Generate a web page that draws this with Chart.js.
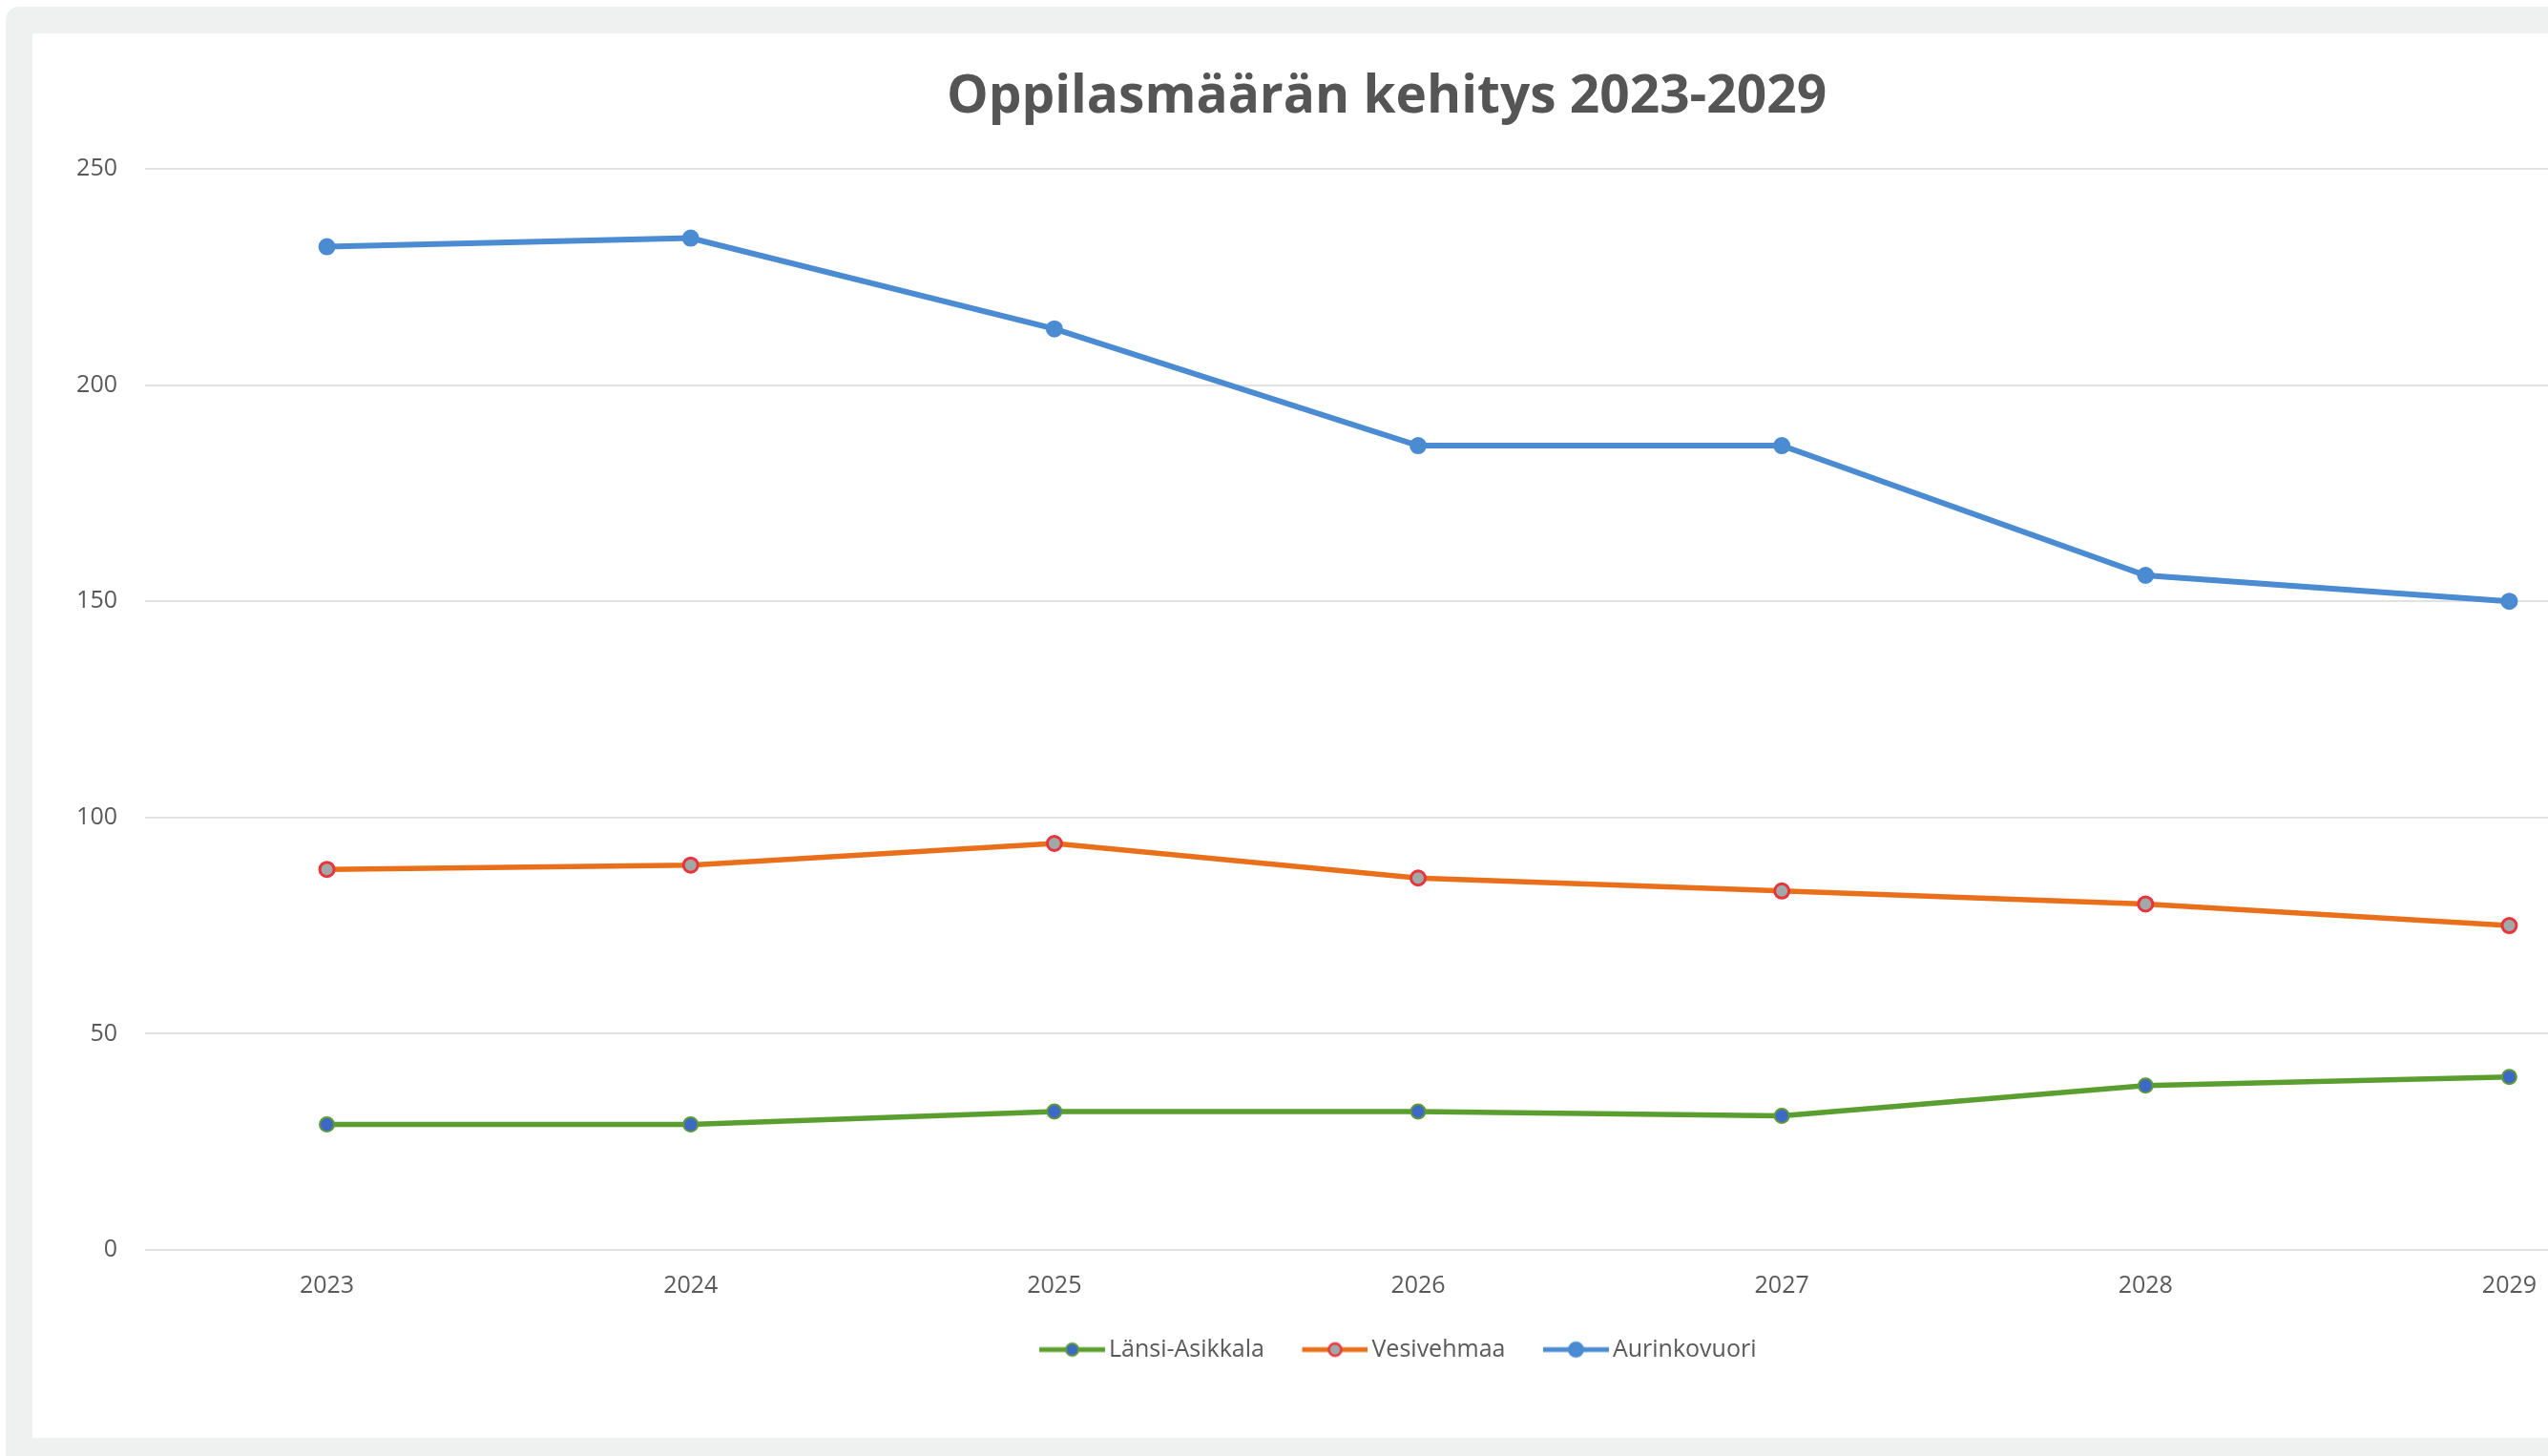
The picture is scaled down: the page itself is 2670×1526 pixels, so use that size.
<!DOCTYPE html>
<html>
<head>
<meta charset="utf-8">
<script src="https://cdn.jsdelivr.net/npm/chart.js@4.4.1/dist/chart.umd.min.js"></script>
<style>
    html, body { margin: 0; padding: 0; background: #ffffff; overflow: hidden; width: 2670px; height: 1526px; }
    .frame { position: absolute; left: 6px; top: 7px; width: 2760px; height: 1560px; background: #eff1f0; border-radius: 14px; }
    .panel { position: absolute; left: 34px; top: 35px; width: 2838px; height: 1472px; background: #ffffff; }
</style>
</head>
<body>
<div class="frame"></div>
<div class="panel"><canvas id="lineChart" width="2838" height="1472"></canvas></div>
<script>
var years = ['2023', '2024', '2025', '2026', '2027', '2028', '2029'];
var lansiAsikkala = [29, 29, 32, 32, 31, 38, 40];
var vesivehmaa = [88, 89, 94, 86, 83, 80, 75];
var aurinkovuori = [232, 234, 213, 186, 186, 156, 150];
var yTicks = [0, 50, 100, 150, 200, 250];

// legend picture: line with a marker, with empty room on the left for item spacing
var ICON_GAP = 32;
function legendIcon(lineColor, fill, stroke, r, bw) {
    var c = document.createElement('canvas');
    c.width = 69 + ICON_GAP;
    c.height = 24;
    var g = c.getContext('2d');
    g.strokeStyle = lineColor;
    g.lineWidth = 5;
    g.beginPath();
    g.moveTo(ICON_GAP, 12);
    g.lineTo(ICON_GAP + 69, 12);
    g.stroke();
    g.beginPath();
    g.arc(ICON_GAP + 34.5, 12, r, 0, Math.PI * 2);
    g.fillStyle = fill;
    g.fill();
    g.lineWidth = bw;
    g.strokeStyle = stroke;
    g.stroke();
    return c;
}

document.addEventListener('DOMContentLoaded', function() {
    var ctx = document.getElementById('lineChart').getContext('2d');
    var textGray = '#595959';

    var lineChart = new Chart(ctx, {
        type: 'line',
        data: {
            labels: years,
            datasets: [
                {
                    label: 'Länsi-Asikkala',
                    data: lansiAsikkala,
                    borderColor: '#5b9e30',
                    borderWidth: 5.5,
                    pointRadius: 7.5,
                    pointBorderWidth: 2,
                    pointBackgroundColor: '#3d68c6',
                    pointBorderColor: '#5d9a3a',
                    legendIcon: legendIcon('#5b9e30', '#3d68c6', '#5d9a3a', 6.5, 2)
                },
                {
                    label: 'Vesivehmaa',
                    data: vesivehmaa,
                    borderColor: '#e96f1a',
                    borderWidth: 5.5,
                    pointRadius: 7.5,
                    pointBorderWidth: 3,
                    pointBackgroundColor: '#a0a8a8',
                    pointBorderColor: '#e8353b',
                    legendIcon: legendIcon('#e96f1a', '#a0a8a8', '#e8353b', 6.5, 2.5)
                },
                {
                    label: 'Aurinkovuori',
                    data: aurinkovuori,
                    borderColor: '#4a8bd2',
                    borderWidth: 6,
                    pointRadius: 7.5,
                    pointBorderWidth: 3,
                    pointBackgroundColor: '#4a8bd2',
                    pointBorderColor: '#4a8bd2',
                    legendIcon: legendIcon('#4a8bd2', '#4a8bd2', '#4a8bd2', 7, 3)
                }
            ]
        },
        options: {
            responsive: false,
            animation: false,
            layout: {
                padding: { left: 0, right: 0, top: 0, bottom: 70 }
            },
            elements: {
                line: { tension: 0 }
            },
            plugins: {
                title: {
                    display: true,
                    text: 'Oppilasmäärän kehitys 2023-2029',
                    color: '#555555',
                    font: { family: 'Open Sans', size: 55, weight: 'bold' },
                    padding: { top: 34, bottom: 42 }
                },
                legend: {
                    position: 'bottom',
                    labels: {
                        color: textGray,
                        font: { family: 'Open Sans', size: 25 },
                        usePointStyle: true,
                        pointStyleWidth: 52 + ICON_GAP,
                        padding: 16,
                        generateLabels: function(chart) {
                            return chart.data.datasets.map(function(ds, i) {
                                return {
                                    text: ds.label,
                                    pointStyle: ds.legendIcon,
                                    fontColor: textGray,
                                    lineWidth: 0,
                                    hidden: false,
                                    datasetIndex: i
                                };
                            });
                        }
                    }
                },
                tooltip: { enabled: false }
            },
            scales: {
                x: {
                    offset: true,
                    grid: { display: false, drawTicks: false },
                    border: { display: false },
                    ticks: {
                        color: textGray,
                        font: { family: 'Open Sans', size: 25 },
                        padding: 23,
                        maxRotation: 0
                    }
                },
                y: {
                    min: 0,
                    max: 250,
                    afterFit: function(scale) { scale.width = 118; },
                    afterBuildTicks: function(scale) {
                        scale.ticks = yTicks.map(function(v) { return { value: v }; });
                    },
                    grid: { color: '#e2e2e2', lineWidth: 2, drawTicks: false },
                    border: { display: false },
                    ticks: {
                        color: textGray,
                        font: { family: 'Open Sans', size: 25 },
                        padding: 29
                    }
                },
                // empty right axis, only keeps room on the right of the plot
                spacer: {
                    type: 'linear',
                    position: 'right',
                    afterFit: function(scale) { scale.width = 52; },
                    grid: { display: false, drawTicks: false },
                    border: { display: false },
                    ticks: { display: false }
                }
            }
        }
    });
});
</script>
</body>
</html>
